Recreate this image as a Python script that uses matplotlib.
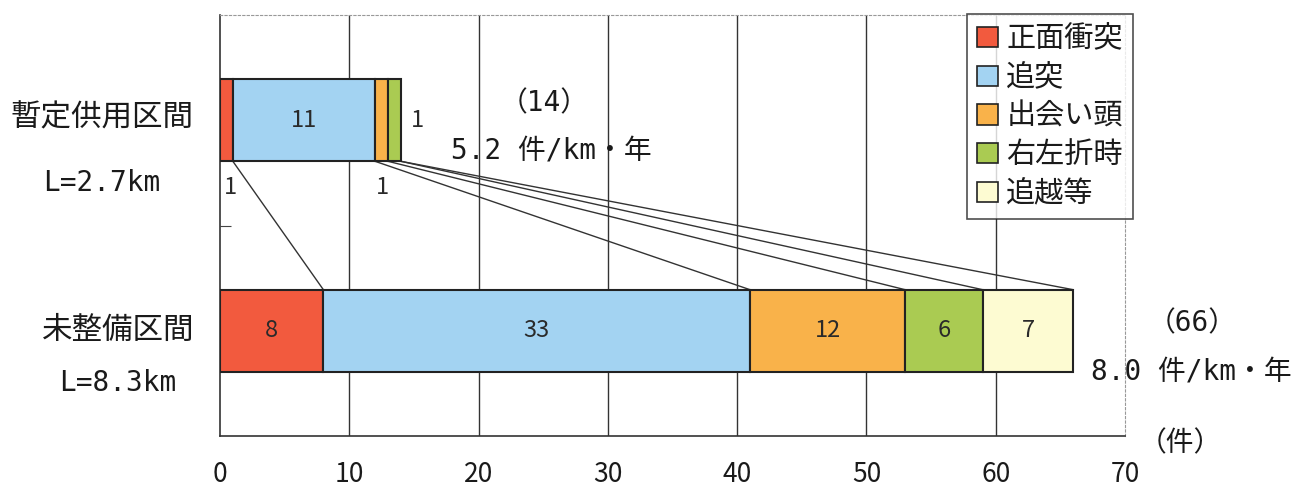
import matplotlib.pyplot as plt
from matplotlib.patches import Patch

plt.rcParams['font.family'] = ['Noto Sans CJK JP', 'DejaVu Sans']
MONO = ['DejaVu Sans Mono', 'Noto Sans CJK JP']

# accident counts by type for each section
types = ['正面衝突', '追突', '出会い頭', '右左折時', '追越等']
colors = ['#f25a3e', '#a3d3f2', '#f9b24a', '#aacb52', '#fdfbd2']
sections = ['暫定供用区間', '未整備区間']
lengths = ['L=2.7km', 'L=8.3km']
counts_temp = [1, 11, 1, 1, 0]
counts_undev = [8, 33, 12, 6, 7]
totals = ['（14）', '（66）']
rates = ['5.2 件/km・年', '8.0 件/km・年']

y_temp, y_undev = 1, 0
bar_h = 0.39
ink = '#1a1a1a'

fig = plt.figure(figsize=(13.03, 4.91), dpi=100)
ax = fig.add_axes([0.1688, 0.112, 0.6946, 0.8574])
ax.set_xlim(0, 70)
ax.set_ylim(-0.5, 1.5)

for x in range(10, 70, 10):
    ax.axvline(x, color='#333333', lw=1.0, zorder=0)

def stacked(y, counts):
    left = 0
    edges = [0]
    for c, col in zip(counts, colors):
        if c > 0:
            ax.barh(y, c, left=left, height=bar_h, color=col,
                    edgecolor='#222222', linewidth=1.5, zorder=3)
        left += c
        edges.append(left)
    return edges

e_top = stacked(y_temp, counts_temp)
e_bot = stacked(y_undev, counts_undev)

# labels on the undeveloped section bar
for i, c in enumerate(counts_undev):
    ax.text((e_bot[i] + e_bot[i + 1]) / 2, y_undev, str(c), ha='center',
            va='center', fontsize=17, color='#2a2a2a', zorder=4)

# labels on the provisional section bar
ax.text((e_top[1] + e_top[2]) / 2, y_temp, str(counts_temp[1]), ha='center',
        va='center', fontsize=17, color='#2a2a2a', zorder=4)
ax.text(e_top[0] + 0.8, y_temp - 0.32, str(counts_temp[0]), ha='center',
        va='center', fontsize=17, color='#2a2a2a')
ax.text(e_top[2] + 0.6, y_temp - 0.32, str(counts_temp[2]), ha='center',
        va='center', fontsize=17, color='#2a2a2a')
ax.text(e_top[4] + 1.3, y_temp, str(counts_temp[3]), ha='center',
        va='center', fontsize=17, color='#2a2a2a')

# connector lines between the boundaries of the two bars
for k in range(1, 6):
    ax.plot([e_top[k], e_bot[k]], [y_temp - bar_h / 2, y_undev + bar_h / 2],
            color='#333333', lw=1.0, zorder=2)

# totals and rates
ax.text(25.1, y_temp + 0.08, totals[0], ha='center', va='center', fontsize=20,
        color=ink, family=MONO)
ax.text(25.6, y_temp - 0.145, rates[0], ha='center', va='center', fontsize=20,
        color=ink, family=MONO)
fig.text(1192 / 1303, 1 - 323 / 491, totals[1], ha='center', va='center', fontsize=20,
         color=ink, family=MONO)
fig.text(1191 / 1303, 1 - 371 / 491, rates[1], ha='center', va='center', fontsize=20,
         color=ink, family=MONO)
fig.text(1180 / 1303, 1 - 443 / 491, '（件）', ha='center', va='center', fontsize=20,
         color=ink)

# section names on the left
fig.text(102 / 1303, 1 - 118 / 491, sections[0], ha='center', va='center', fontsize=22, color=ink)
fig.text(102 / 1303, 1 - 183 / 491, lengths[0], ha='center', va='center', fontsize=20,
         color=ink, family=MONO)
fig.text(118 / 1303, 1 - 330 / 491, sections[1], ha='center', va='center', fontsize=22, color=ink)
fig.text(118 / 1303, 1 - 383 / 491, lengths[1], ha='center', va='center', fontsize=20,
         color=ink, family=MONO)

ax.set_xticks(range(0, 71, 10))
ax.tick_params(axis='x', length=0, pad=18, labelsize=19, labelcolor=ink)
ax.set_yticks([0.5])
ax.set_yticklabels([])
ax.tick_params(axis='y', direction='in', length=8, color='#444444')
for side in ['left', 'bottom']:
    ax.spines[side].set_color('#333333')
    ax.spines[side].set_linewidth(1.2)
for side in ['top', 'right']:
    ax.spines[side].set_color('#999999')
    ax.spines[side].set_linewidth(0.8)
    ax.spines[side].set_linestyle((0, (2, 2)))

handles = [Patch(facecolor=c, edgecolor='#222222', linewidth=1.2) for c in colors]
leg = fig.legend(handles, types, loc='upper right', bbox_to_anchor=(1133 / 1303, 1 - 14 / 491),
                 fontsize=21, frameon=True, fancybox=False, handlelength=0.7, handleheight=0.7,
                 handletextpad=0.3, labelspacing=0.3, borderpad=0.35, borderaxespad=0,
                 labelcolor=ink)
leg.get_frame().set_edgecolor('#222222')
leg.get_frame().set_linewidth(1.2)

fig.savefig('out.png', dpi=100)
